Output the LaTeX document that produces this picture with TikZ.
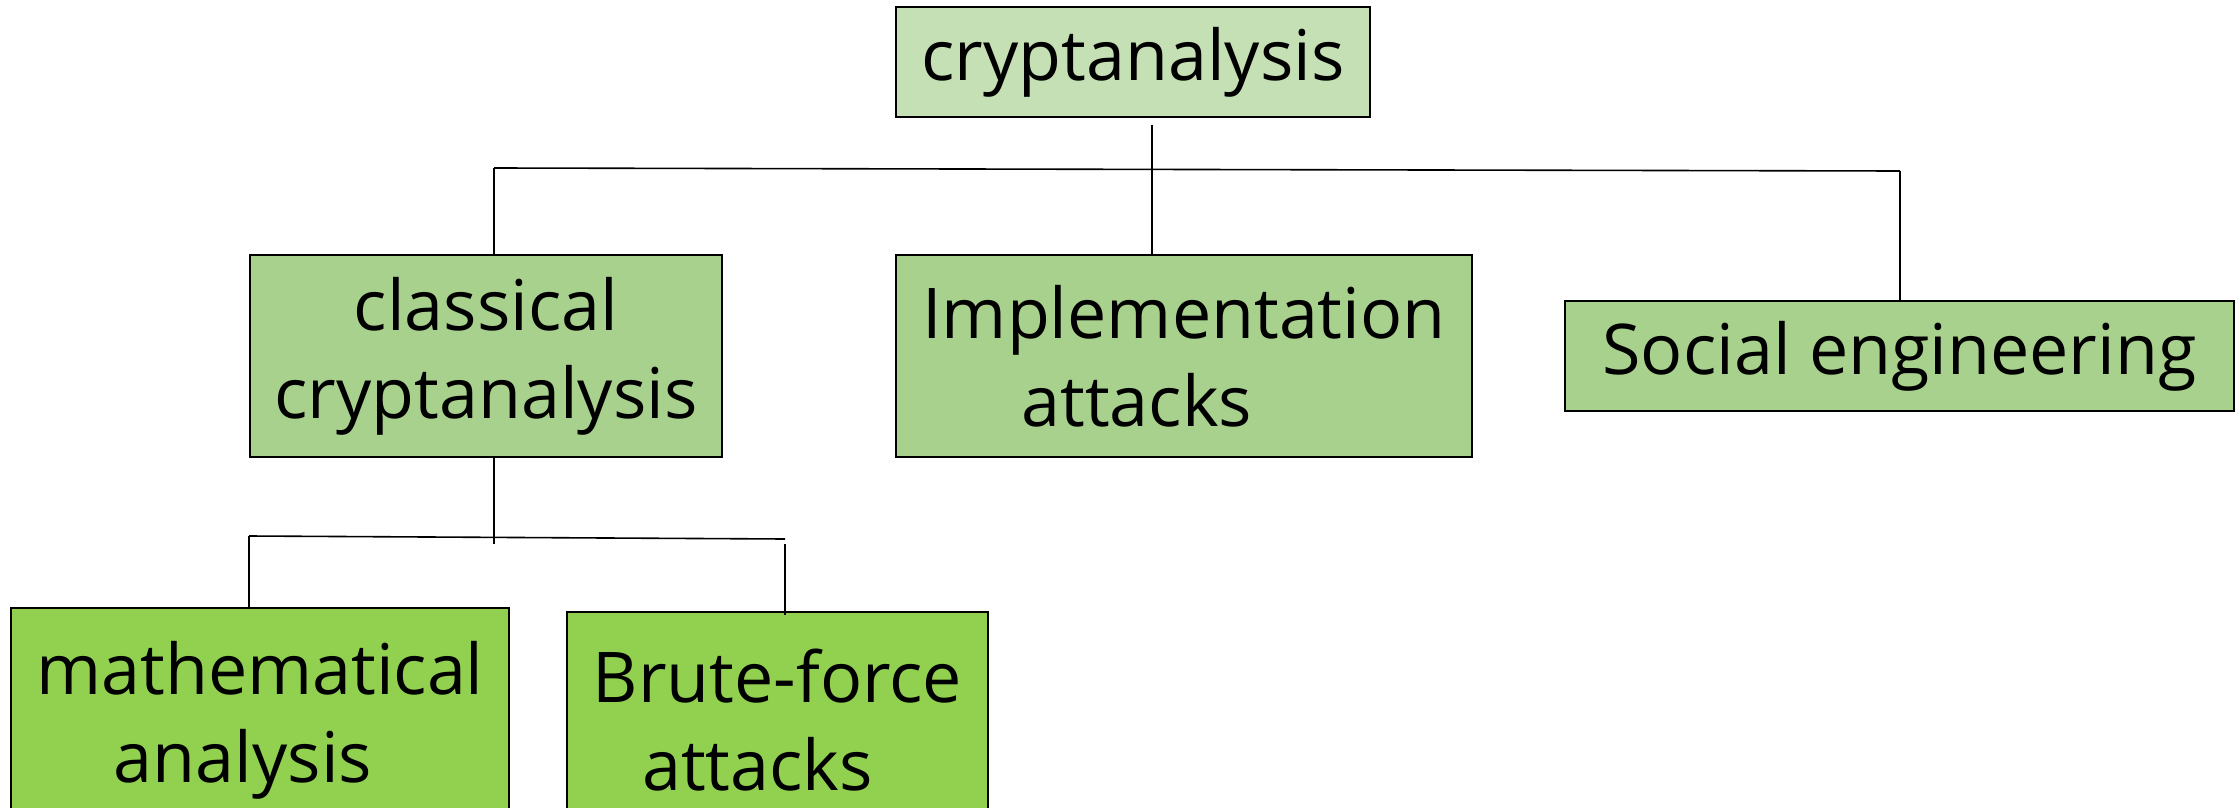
\documentclass[tikz,border=0pt]{standalone}
\usepackage{fontspec}
\setmainfont{Open Sans}
\usetikzlibrary{positioning}

\definecolor{rootgreen}{HTML}{C5E0B4}
\definecolor{midgreen}{HTML}{A9D18E}
\definecolor{leafgreen}{HTML}{92D050}

\tikzset{
  box/.style={draw=black, line width=1pt, align=center, inner sep=0pt,
              font=\fontsize{35}{44}\selectfont},
  link/.style={line width=0.8pt},
}

\begin{document}
\begin{tikzpicture}[x=0.5pt, y=-0.5pt]
    \useasboundingbox (0,0) rectangle (2237,808);
    \clip (0,0) rectangle (2237,808);

    % Boxes
    \node[box, fill=rootgreen, minimum width=237pt, minimum height=55pt] (root) at (1133,62) {cryptanalysis};
    \node[box, fill=midgreen, minimum width=236pt, minimum height=101pt] (classical) at (486,356) {classical\\cryptanalysis};
    \node[box, fill=midgreen, minimum width=288pt, minimum height=101pt] (impl) at (1184,356) {Implementation\\attacks\hspace*{47pt}};
    \node[box, fill=midgreen, minimum width=334.5pt, minimum height=55pt] (social) at (1899.5,356) {Social engineering};
    \node[box, fill=leafgreen, minimum width=249pt, minimum height=112pt] (math) at (260,720) {mathematical\\analysis\hspace*{17pt}};
    \node[box, fill=leafgreen, minimum width=210.5pt, minimum height=108pt] (brute) at (777.5,720) {Brute-force\\attacks\hspace*{20pt}};

    % Upper tree
    \coordinate (rootdrop) at (1152,125);
    \coordinate (hubL) at (494,168);
    \coordinate (hubR) at (1900,171);
    \draw[link] (rootdrop) -- (rootdrop |- impl.north);
    \draw[link] (hubL) -- (hubR);
    \draw[link] (hubL) -- (hubL |- classical.north);
    \draw[link] (hubR) -- (hubR |- social.north);

    % Lower tree
    \coordinate (classdrop) at (494,544);
    \coordinate (subL) at (249,536);
    \coordinate (subR) at (785,539);
    \coordinate (brutedrop) at (785,544);
    \draw[link] (classdrop |- classical.south) -- (classdrop);
    \draw[link] (subL) -- (subR);
    \draw[link] (subL) -- (subL |- math.north);
    \draw[link] (brutedrop) -- ([yshift=-2pt]brutedrop |- brute.north);
\end{tikzpicture}
\end{document}
